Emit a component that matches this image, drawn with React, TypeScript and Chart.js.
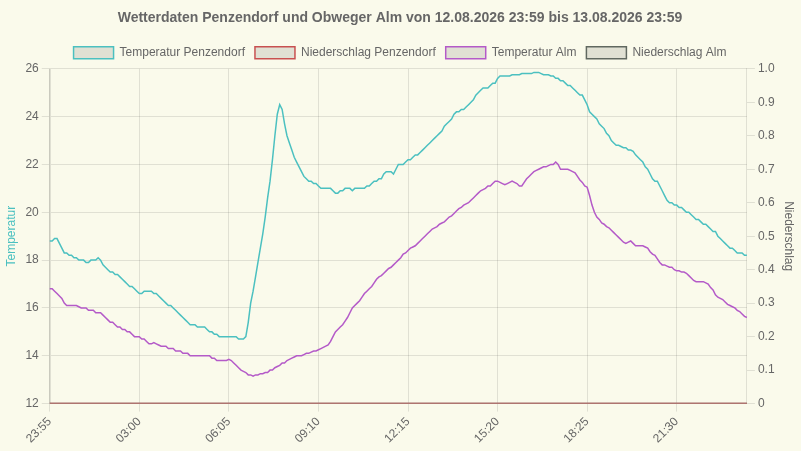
import React, { useEffect, useRef } from "react";
import { Chart, registerables } from "chart.js";

Chart.register(...registerables);

const titleText = "Wetterdaten Penzendorf und Obweger Alm von 12.08.2026 23:59 bis 13.08.2026 23:59";

// 5-minute categories starting 23:55 (289 points)
const startLabel = "23:55";
const stepMinutes = 5;
const pointCount = 289;
const categories: string[] = [];
{
  const [h0, m0] = startLabel.split(":").map(Number);
  for (let i = 0; i < pointCount; i++) {
    const t = (h0 * 60 + m0 + i * stepMinutes) % (24 * 60);
    const h = Math.floor(t / 60);
    const m = t % 60;
    categories.push(String(h).padStart(2, "0") + ":" + String(m).padStart(2, "0"));
  }
}

const tempPenzendorf = [
  18.8, 18.8, 18.9, 18.9, 18.7, 18.5, 18.3, 18.3, 18.2, 18.2, 18.1, 18.1,
  18.0, 18.0, 18.0, 17.9, 17.9, 18.0, 18.0, 18.0, 18.1, 18.0, 17.8, 17.7,
  17.6, 17.5, 17.5, 17.4, 17.4, 17.3, 17.2, 17.1, 17.0, 16.9, 16.9, 16.8,
  16.7, 16.6, 16.6, 16.7, 16.7, 16.7, 16.7, 16.6, 16.6, 16.5, 16.4, 16.3,
  16.2, 16.1, 16.1, 16.0, 15.9, 15.8, 15.7, 15.6, 15.5, 15.4, 15.3, 15.3,
  15.3, 15.2, 15.2, 15.2, 15.2, 15.1, 15.0, 15.0, 14.9, 14.9, 14.8, 14.8,
  14.8, 14.8, 14.8, 14.8, 14.8, 14.8, 14.7, 14.7, 14.7, 14.8, 15.4, 16.2,
  16.7, 17.3, 17.9, 18.5, 19.1, 19.8, 20.6, 21.3, 22.2, 23.2, 24.1, 24.5,
  24.3, 23.7, 23.2, 22.9, 22.6, 22.3, 22.1, 21.9, 21.7, 21.5, 21.4, 21.3,
  21.3, 21.2, 21.2, 21.1, 21.0, 21.0, 21.0, 21.0, 21.0, 20.9, 20.8, 20.8,
  20.9, 20.9, 21.0, 21.0, 21.0, 20.9, 21.0, 21.0, 21.0, 21.0, 21.0, 21.1,
  21.1, 21.2, 21.3, 21.3, 21.4, 21.4, 21.6, 21.7, 21.7, 21.7, 21.6, 21.8,
  22.0, 22.0, 22.0, 22.1, 22.2, 22.2, 22.3, 22.4, 22.4, 22.5, 22.6, 22.7,
  22.8, 22.9, 23.0, 23.1, 23.2, 23.3, 23.4, 23.6, 23.7, 23.8, 23.9, 24.1,
  24.2, 24.2, 24.3, 24.3, 24.4, 24.5, 24.6, 24.7, 24.9, 25.0, 25.1, 25.2,
  25.2, 25.2, 25.3, 25.4, 25.4, 25.6, 25.7, 25.7, 25.7, 25.7, 25.7, 25.75,
  25.75, 25.75, 25.75, 25.8, 25.8, 25.8, 25.8, 25.8, 25.85, 25.85, 25.85, 25.8,
  25.75, 25.75, 25.75, 25.7, 25.7, 25.6, 25.6, 25.5, 25.5, 25.4, 25.3, 25.3,
  25.2, 25.1, 25.0, 24.9, 24.9, 24.7, 24.5, 24.2, 24.1, 24.0, 23.9, 23.7,
  23.6, 23.5, 23.3, 23.2, 23.0, 22.9, 22.8, 22.8, 22.75, 22.7, 22.7, 22.6,
  22.6, 22.55, 22.4, 22.3, 22.2, 22.1, 21.9, 21.8, 21.6, 21.4, 21.3, 21.3,
  21.1, 20.9, 20.7, 20.5, 20.4, 20.4, 20.3, 20.3, 20.2, 20.2, 20.1, 20.0,
  20.0, 19.9, 19.8, 19.7, 19.7, 19.6, 19.5, 19.5, 19.4, 19.3, 19.2, 19.2,
  19.0, 18.9, 18.8, 18.7, 18.6, 18.5, 18.5, 18.4, 18.3, 18.3, 18.3, 18.2,
  18.2,
];

const tempAlm = [
  16.8, 16.8, 16.7, 16.6, 16.5, 16.4, 16.2, 16.1, 16.1, 16.1, 16.1, 16.1,
  16.05, 16.0, 16.0, 16.0, 15.9, 15.9, 15.9, 15.8, 15.8, 15.8, 15.7, 15.6,
  15.5, 15.4, 15.4, 15.3, 15.2, 15.2, 15.1, 15.1, 15.0, 15.0, 14.9, 14.8,
  14.8, 14.8, 14.7, 14.7, 14.6, 14.5, 14.5, 14.55, 14.5, 14.45, 14.4, 14.4,
  14.4, 14.3, 14.3, 14.3, 14.2, 14.2, 14.2, 14.1, 14.1, 14.1, 14.0, 14.0,
  14.0, 14.0, 14.0, 14.0, 14.0, 14.0, 14.0, 13.9, 13.9, 13.8, 13.8, 13.8,
  13.8, 13.8, 13.85, 13.8, 13.7, 13.6, 13.5, 13.4, 13.35, 13.3, 13.2, 13.2,
  13.15, 13.2, 13.2, 13.25, 13.25, 13.3, 13.3, 13.4, 13.4, 13.5, 13.55, 13.6,
  13.7, 13.7, 13.8, 13.85, 13.9, 13.95, 14.0, 14.0, 14.0, 14.05, 14.1, 14.1,
  14.15, 14.2, 14.2, 14.25, 14.3, 14.35, 14.4, 14.45, 14.6, 14.8, 15.0, 15.1,
  15.2, 15.3, 15.45, 15.6, 15.8, 16.0, 16.1, 16.2, 16.3, 16.45, 16.6, 16.7,
  16.8, 16.9, 17.05, 17.2, 17.3, 17.35, 17.45, 17.55, 17.65, 17.7, 17.8, 17.9,
  18.0, 18.1, 18.25, 18.3, 18.4, 18.5, 18.55, 18.6, 18.7, 18.8, 18.9, 19.0,
  19.1, 19.2, 19.3, 19.35, 19.4, 19.5, 19.55, 19.6, 19.7, 19.8, 19.85, 19.95,
  20.05, 20.15, 20.2, 20.3, 20.35, 20.4, 20.5, 20.6, 20.7, 20.8, 20.9, 20.95,
  21.0, 21.1, 21.1, 21.2, 21.3, 21.3, 21.25, 21.2, 21.15, 21.2, 21.25, 21.3,
  21.25, 21.2, 21.1, 21.1, 21.25, 21.4, 21.5, 21.6, 21.7, 21.75, 21.8, 21.85,
  21.9, 21.9, 21.95, 22.0, 22.0, 22.1, 22.0, 21.8, 21.8, 21.8, 21.8, 21.75,
  21.7, 21.65, 21.5, 21.35, 21.25, 21.1, 21.05, 20.7, 20.3, 20.0, 19.8, 19.7,
  19.55, 19.5, 19.4, 19.35, 19.25, 19.15, 19.05, 18.95, 18.85, 18.75, 18.7, 18.75,
  18.8, 18.7, 18.6, 18.6, 18.6, 18.6, 18.55, 18.5, 18.35, 18.25, 18.2, 18.05,
  17.9, 17.8, 17.8, 17.75, 17.7, 17.7, 17.6, 17.55, 17.55, 17.5, 17.5, 17.45,
  17.35, 17.25, 17.15, 17.1, 17.1, 17.1, 17.1, 17.05, 17.0, 16.85, 16.75, 16.55,
  16.45, 16.4, 16.35, 16.25, 16.15, 16.1, 16.05, 16.0, 15.9, 15.85, 15.75, 15.65,
  15.6,
];

const rainPenzendorf = [
  0, 0, 0, 0, 0, 0, 0, 0, 0, 0, 0, 0, 0, 0, 0, 0, 0, 0, 0, 0, 0, 0, 0, 0,
  0, 0, 0, 0, 0, 0, 0, 0, 0, 0, 0, 0, 0, 0, 0, 0, 0, 0, 0, 0, 0, 0, 0, 0,
  0, 0, 0, 0, 0, 0, 0, 0, 0, 0, 0, 0, 0, 0, 0, 0, 0, 0, 0, 0, 0, 0, 0, 0,
  0, 0, 0, 0, 0, 0, 0, 0, 0, 0, 0, 0, 0, 0, 0, 0, 0, 0, 0, 0, 0, 0, 0, 0,
  0, 0, 0, 0, 0, 0, 0, 0, 0, 0, 0, 0, 0, 0, 0, 0, 0, 0, 0, 0, 0, 0, 0, 0,
  0, 0, 0, 0, 0, 0, 0, 0, 0, 0, 0, 0, 0, 0, 0, 0, 0, 0, 0, 0, 0, 0, 0, 0,
  0, 0, 0, 0, 0, 0, 0, 0, 0, 0, 0, 0, 0, 0, 0, 0, 0, 0, 0, 0, 0, 0, 0, 0,
  0, 0, 0, 0, 0, 0, 0, 0, 0, 0, 0, 0, 0, 0, 0, 0, 0, 0, 0, 0, 0, 0, 0, 0,
  0, 0, 0, 0, 0, 0, 0, 0, 0, 0, 0, 0, 0, 0, 0, 0, 0, 0, 0, 0, 0, 0, 0, 0,
  0, 0, 0, 0, 0, 0, 0, 0, 0, 0, 0, 0, 0, 0, 0, 0, 0, 0, 0, 0, 0, 0, 0, 0,
  0, 0, 0, 0, 0, 0, 0, 0, 0, 0, 0, 0, 0, 0, 0, 0, 0, 0, 0, 0, 0, 0, 0, 0,
  0, 0, 0, 0, 0, 0, 0, 0, 0, 0, 0, 0, 0, 0, 0, 0, 0, 0, 0, 0, 0, 0, 0, 0,
  0,
];

const rainAlm = [
  0, 0, 0, 0, 0, 0, 0, 0, 0, 0, 0, 0, 0, 0, 0, 0, 0, 0, 0, 0, 0, 0, 0, 0,
  0, 0, 0, 0, 0, 0, 0, 0, 0, 0, 0, 0, 0, 0, 0, 0, 0, 0, 0, 0, 0, 0, 0, 0,
  0, 0, 0, 0, 0, 0, 0, 0, 0, 0, 0, 0, 0, 0, 0, 0, 0, 0, 0, 0, 0, 0, 0, 0,
  0, 0, 0, 0, 0, 0, 0, 0, 0, 0, 0, 0, 0, 0, 0, 0, 0, 0, 0, 0, 0, 0, 0, 0,
  0, 0, 0, 0, 0, 0, 0, 0, 0, 0, 0, 0, 0, 0, 0, 0, 0, 0, 0, 0, 0, 0, 0, 0,
  0, 0, 0, 0, 0, 0, 0, 0, 0, 0, 0, 0, 0, 0, 0, 0, 0, 0, 0, 0, 0, 0, 0, 0,
  0, 0, 0, 0, 0, 0, 0, 0, 0, 0, 0, 0, 0, 0, 0, 0, 0, 0, 0, 0, 0, 0, 0, 0,
  0, 0, 0, 0, 0, 0, 0, 0, 0, 0, 0, 0, 0, 0, 0, 0, 0, 0, 0, 0, 0, 0, 0, 0,
  0, 0, 0, 0, 0, 0, 0, 0, 0, 0, 0, 0, 0, 0, 0, 0, 0, 0, 0, 0, 0, 0, 0, 0,
  0, 0, 0, 0, 0, 0, 0, 0, 0, 0, 0, 0, 0, 0, 0, 0, 0, 0, 0, 0, 0, 0, 0, 0,
  0, 0, 0, 0, 0, 0, 0, 0, 0, 0, 0, 0, 0, 0, 0, 0, 0, 0, 0, 0, 0, 0, 0, 0,
  0, 0, 0, 0, 0, 0, 0, 0, 0, 0, 0, 0, 0, 0, 0, 0, 0, 0, 0, 0, 0, 0, 0, 0,
  0,
];

const BG = "#fafaeb";
const TEAL = "#4bc0c0";
const RED = "#c85050";
const PURPLE = "#b45ac8";
const GRAY = "#606860";

export default function App() {
  const ref = useRef<HTMLCanvasElement>(null);
  useEffect(() => {
    document.body.style.margin = "0";
    document.body.style.background = BG;
    const chart = new Chart(ref.current!, {
      type: "line",
      data: {
        labels: categories,
        datasets: [
          { label: "Temperatur Penzendorf", data: tempPenzendorf, borderColor: TEAL, backgroundColor: "rgba(0,0,0,0.1)", borderWidth: 1.5, pointRadius: 0, yAxisID: "y", tension: 0 },
          { label: "Niederschlag Penzendorf", data: rainPenzendorf, borderColor: RED, backgroundColor: "rgba(0,0,0,0.1)", borderWidth: 1.5, pointRadius: 0, yAxisID: "y1" },
          { label: "Temperatur Alm", data: tempAlm, borderColor: PURPLE, backgroundColor: "rgba(0,0,0,0.1)", borderWidth: 1.5, pointRadius: 0, yAxisID: "y" },
          { label: "Niederschlag Alm", data: rainAlm, borderColor: GRAY, backgroundColor: "rgba(0,0,0,0.1)", borderWidth: 1.5, pointRadius: 0, yAxisID: "y1" },
        ],
      },
      options: {
        animation: false,
        responsive: true,
        maintainAspectRatio: false,
        layout: { padding: { bottom: 2, right: 1 } },
        plugins: {
          title: { display: true, text: titleText, color: "#666", font: { size: 14, weight: "bold" } },
          legend: { labels: { color: "#666", font: { size: 12 } } },
          tooltip: { enabled: false },
        },
        scales: {
          x: {
            ticks: { color: "#666", maxRotation: 45, minRotation: 45, autoSkip: true, maxTicksLimit: 8 },
            grid: { color: "rgba(0,0,0,0.1)" },
          },
          y: {
            position: "left",
            min: 12,
            max: 26,
            ticks: { stepSize: 2, color: "#666" },
            title: { display: true, text: "Temperatur", color: TEAL },
            grid: { color: "rgba(0,0,0,0.1)" },
            border: { width: 2 },
          },
          y1: {
            position: "right",
            min: 0,
            max: 1,
            ticks: { stepSize: 0.1, color: "#666" },
            title: { display: true, text: "Niederschlag", color: "#666" },
            grid: { drawOnChartArea: false },
          },
        },
      },
    });
    return () => chart.destroy();
  }, []);
  return (
    <div style={{ width: 801, height: 451, position: "relative", background: BG }}>
      <canvas ref={ref} />
    </div>
  );
}
